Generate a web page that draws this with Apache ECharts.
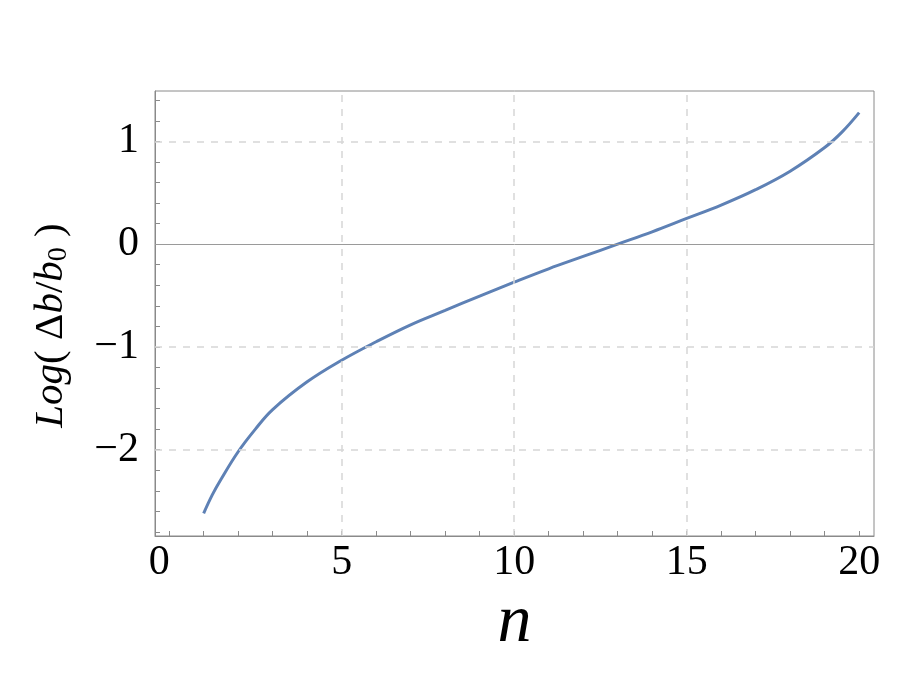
<!DOCTYPE html>
<html>
<head>
<meta charset="utf-8">
<title>Log(Δb/b0) vs n</title>
<script src="https://cdn.jsdelivr.net/npm/echarts@6/dist/echarts.min.js"></script>
<style>
  html, body { margin: 0; padding: 0; background: #fff; }
  #chart { width: 900px; height: 675px; }
</style>
</head>
<body>
<div id="chart"></div>
<script>
// values
const nValues = [1, 1.25, 1.5, 2, 2.5, 3, 4, 5, 6, 7, 8, 9, 10, 11, 12, 13, 14, 15, 16, 17, 18, 19, 19.5, 20]
const logValues = [-2.62, -2.44, -2.29, -2.02, -1.80, -1.61, -1.34, -1.13, -0.95, -0.785, -0.645, -0.505, -0.37, -0.24, -0.12, 0.0, 0.12, 0.25, 0.38, 0.53, 0.71, 0.94, 1.09, 1.28]

const xLabels = [0, 5, 10, 15, 20]
const xTicks = [0, 1, 2, 3, 4, 5, 6, 7, 8, 9, 10, 11, 12, 13, 14, 15, 16, 17, 18, 19, 20]
const yLabels = [-2, -1, 0, 1]
const yTicks = [-2.8, -2.6, -2.4, -2.2, -2, -1.8, -1.6, -1.4, -1.2, -1, -0.8, -0.6, -0.4, -0.2, 0,
  0.2, 0.4, 0.6, 0.8, 1, 1.2, 1.4]
const xGrid = [5, 10, 15]
const yGrid = [-2, -1, 1]

const chart = echarts.init(document.getElementById('chart'))

const serif = '"Liberation Serif", "DejaVu Serif", serif'
const frameColor = '#8a8a8a'
const gridLine = { type: [7, 7], color: '#d6d6d6', width: 1.5 }

const option = {
  backgroundColor: '#fff',
  animation: false,
  grid: {
    left: 155,
    right: 26,
    top: 91,
    bottom: 139,
    show: true,
    borderColor: frameColor,
    borderWidth: 1
  },
  xAxis: {
    type: 'value',
    min: -0.41,
    max: 20.43,
    name: 'n',
    nameLocation: 'middle',
    nameGap: 52,
    nameTextStyle: { fontFamily: serif, fontStyle: 'italic', fontSize: 68, color: '#000' },
    axisLine: { onZero: false, lineStyle: { color: frameColor, width: 1 } },
    axisTick: { inside: true, length: 5, customValues: xTicks, lineStyle: { color: frameColor } },
    axisLabel: {
      customValues: xLabels,
      margin: 6,
      fontFamily: serif,
      fontSize: 42,
      color: '#000',
      // the zero label sits a little left of its tick in the original
      formatter: function (v) {
        return v === 0 ? '{z|0}' : String(v)
      },
      rich: {
        z: { fontFamily: serif, fontSize: 42, color: '#000', padding: [0, 20, 0, 0] }
      }
    },
    splitLine: { show: false }
  },
  yAxis: {
    type: 'value',
    min: -2.84,
    max: 1.49,
    name: '{i|Log}( Δ{i|b}/{i|b}{s|0} )',
    nameLocation: 'middle',
    nameRotate: 90,
    nameGap: 82,
    nameTextStyle: {
      fontFamily: serif,
      fontSize: 41,
      color: '#000',
      padding: [0, 24, 0, 0],
      rich: {
        i: { fontFamily: serif, fontStyle: 'italic', fontSize: 41 },
        s: { fontFamily: serif, fontSize: 28, verticalAlign: 'bottom', padding: [16, 0, 0, 0] }
      }
    },
    axisLine: { show: true, onZero: false, lineStyle: { color: frameColor, width: 1 } },
    axisTick: { show: true, inside: true, length: 5, customValues: yTicks, lineStyle: { color: frameColor } },
    axisLabel: {
      customValues: yLabels,
      margin: 16,
      fontFamily: serif,
      fontSize: 42,
      color: '#000',
      formatter: function (v) {
        return v < 0 ? '\u2212' + Math.abs(v) : String(v)
      }
    },
    splitLine: { show: false }
  },
  series: [
    {
      type: 'line',
      data: nValues.map((n, i) => [n, logValues[i]]),
      showSymbol: false,
      smooth: 0.4,
      lineStyle: { color: '#5E81B5', width: 3 },
      markLine: {
        silent: true,
        symbol: 'none',
        label: { show: false },
        animation: false,
        data: [
          ...xGrid.map(v => ({ xAxis: v, lineStyle: gridLine })),
          ...yGrid.map(v => ({ yAxis: v, lineStyle: gridLine })),
          { yAxis: 0, lineStyle: { type: 'solid', color: '#9a9a9a', width: 1 } }
        ]
      },
      z: 3
    }
  ]
}

chart.setOption(option)
window.addEventListener('resize', function () {
  chart.resize()
})
</script>
</body>
</html>
